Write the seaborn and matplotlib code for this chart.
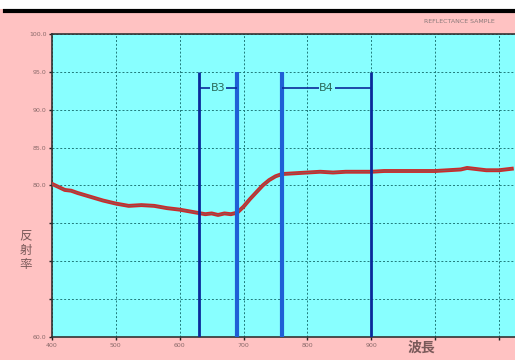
import matplotlib
matplotlib.use("Agg")
import matplotlib.pyplot as plt
import seaborn as sns
import pandas as pd

# reflectance curve
wavelength = [400, 410, 420, 430, 440, 460, 480, 500, 520, 540, 560, 580, 600, 620,
              640, 650, 660, 670, 680, 690, 700, 710, 720, 730, 740, 750, 760, 780,
              800, 820, 840, 860, 880, 900, 920, 940, 960, 980, 1000, 1020, 1040,
              1050, 1060, 1080, 1100, 1120]
reflectance = [80.2, 79.8, 79.4, 79.3, 79.0, 78.5, 78.0, 77.6, 77.3, 77.4, 77.3, 77.0,
               76.8, 76.5, 76.2, 76.3, 76.1, 76.3, 76.2, 76.4, 77.2, 78.2, 79.1, 80.0,
               80.7, 81.2, 81.5, 81.6, 81.7, 81.8, 81.7, 81.8, 81.8, 81.8, 81.9, 81.9,
               81.9, 81.9, 81.9, 82.0, 82.1, 82.3, 82.2, 82.0, 82.0, 82.2]

bands = ["B3", "B4"]
band_lo = [630, 760]
band_hi = [690, 900]
band_level = 92.9

y_ticks = [60, 65, 70, 75, 80, 85, 90, 95, 100]
y_labels = ["60.0", "", "", "", "80.0", "85.0", "90.0", "95.0", "100.0"]
x_ticks = [400, 500, 600, 700, 800, 900, 1000, 1100]
x_labels = ["400", "500", "600", "700", "800", "900", "", ""]

pink = "#ffc2c2"
cyan = "#88ffff"
dark_blue = "#0a2a9a"
mid_blue = "#1f5fd6"

df = pd.DataFrame({"wavelength": wavelength, "reflectance": reflectance})

fig = plt.figure(figsize=(5.15, 3.6), dpi=100, facecolor=pink)
ax = fig.add_axes([0.101, 0.064, 0.899, 0.842])
ax.set_facecolor(cyan)

# white strip and black rule at the very top
fig.patches.append(plt.Rectangle((0, 0.975), 1, 0.025, transform=fig.transFigure,
                                 facecolor="white", edgecolor="none", zorder=0))
fig.lines.append(plt.Line2D([0.01, 1], [0.97, 0.97], transform=fig.transFigure,
                            color="black", linewidth=3))
fig.text(0.96, 0.94, "REFLECTANCE SAMPLE", ha="right", va="center",
         fontsize=4.5, color="#8a7a7a")

ax.grid(True, color="#1f7a7a", linestyle=(0, (2, 2)), linewidth=0.7)
ax.set_axisbelow(True)

sns.lineplot(data=df, x="wavelength", y="reflectance", ax=ax, color="#cc2a2a",
             linewidth=2.8, zorder=3)
sns.lineplot(data=df, x="wavelength", y="reflectance", ax=ax, color="#8a5a5a",
             linewidth=0.7, zorder=4)

for name, lo, hi in zip(bands, band_lo, band_hi):
    ax.vlines(lo, 60, 95, color=dark_blue if name == "B3" else mid_blue,
              linewidth=2.0 if name == "B3" else 3.0, zorder=5)
    ax.vlines(hi, 60, 95, color=mid_blue if name == "B3" else dark_blue,
              linewidth=3.0 if name == "B3" else 2.0, zorder=5)
    ax.hlines(band_level, lo, hi, color=dark_blue, linewidth=1.2, zorder=5)
    ax.text((lo + hi) / 2, band_level, name, ha="center", va="center", fontsize=8,
            color="#2a6a5a", zorder=6,
            bbox=dict(facecolor=cyan, edgecolor="none", pad=0.5))

ax.set_xlim(400, 1125)
ax.set_ylim(60, 100)
ax.set_xticks(x_ticks)
ax.set_xticklabels(x_labels)
ax.set_yticks(y_ticks)
ax.set_yticklabels(y_labels)
ax.tick_params(axis="both", labelsize=4.5, labelcolor="#8a6a6a", length=2,
               width=1, color="#222222", pad=2)
ax.set_xlabel("")
ax.set_ylabel("")

for side in ["left", "bottom", "top"]:
    ax.spines[side].set_color("#333333")
    ax.spines[side].set_linewidth(1.2)
ax.spines["right"].set_visible(False)

jp = ["Noto Sans CJK JP", "DejaVu Sans"]
fig.text(0.05, 0.305, "反\n射\n率", ha="center", va="center", fontsize=9,
         color="#7a5a5a", family=jp, linespacing=1.15)
fig.text(0.818, 0.033, "波長", ha="center", va="center", fontsize=10,
         color="#7a5a5a", family=jp, fontweight="bold")

fig.savefig("out.png", dpi=100, facecolor=pink)
